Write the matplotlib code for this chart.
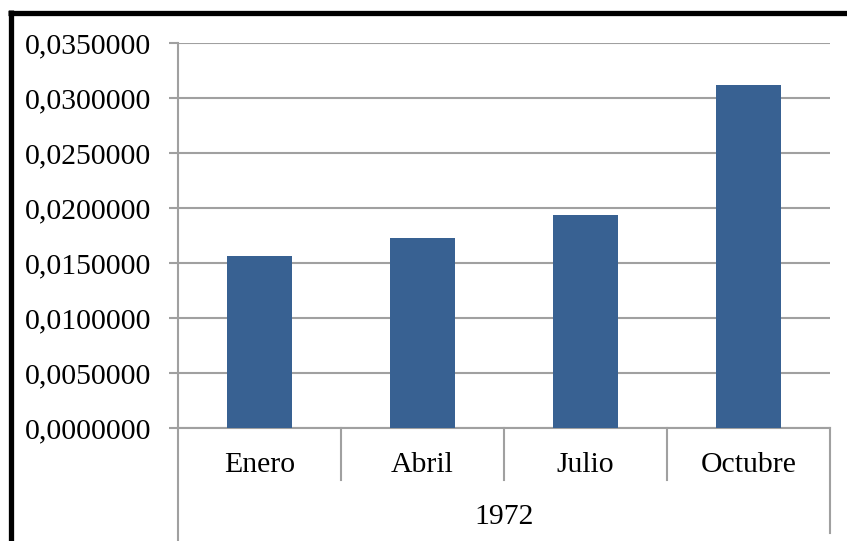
import matplotlib.pyplot as plt
from matplotlib.lines import Line2D
from matplotlib.ticker import FuncFormatter, MultipleLocator

MONTHS: list[str] = ["Enero", "Abril", "Julio", "Octubre"]
VALUES: list[float] = [0.01564, 0.01727, 0.01936, 0.03118]
YEAR: str = "1972"

BAR_COLOR = "#386192"
GRID_COLOR = "#a0a0a0"
FS = 21.4

plt.rcParams["font.family"] = ["Liberation Serif", "DejaVu Serif"]

W, H = 847, 541
fig = plt.figure(figsize=(W / 100, H / 100), dpi=100)

# plot area in pixels: left 178, right 830, top 43, bottom 428
left, right, top, bottom = 178, 830, 43, 428
ax = fig.add_axes([left / W, 1 - bottom / H, (right - left) / W, (bottom - top) / H])

x = list(range(len(MONTHS)))
ax.bar(x, VALUES, width=0.4, color=BAR_COLOR, zorder=3)

ax.set_xlim(-0.5, len(MONTHS) - 0.5)
ax.set_ylim(0, 0.035)
ax.yaxis.set_major_locator(MultipleLocator(0.005))
ax.yaxis.set_major_formatter(FuncFormatter(lambda v, _: f"{v:.7f}".replace(".", ",")))
ax.tick_params(axis="y", labelsize=FS, length=6.5, width=1.5, color=GRID_COLOR, pad=12.5)
ax.grid(axis="y", color=GRID_COLOR, linewidth=1.5, zorder=0)
ax.set_xticks([])

for side in ("top", "right"):
    ax.spines[side].set_visible(False)
for side in ("left", "bottom"):
    ax.spines[side].set_color(GRID_COLOR)
    ax.spines[side].set_linewidth(1.5)

# category axis: separators and labels
ph = bottom - top
trans = ax.get_xaxis_transform()
inner = -52 / ph
outer = -105 / ph
for i in range(len(MONTHS) + 1):
    xs = i - 0.5
    if i == 0:
        y0 = -(H - bottom) / ph
    elif i == len(MONTHS):
        y0 = outer
    else:
        y0 = inner
    ax.add_line(Line2D([xs, xs], [0, y0], transform=trans, color=GRID_COLOR,
                       linewidth=1.5, clip_on=False))

for xi, name in zip(x, MONTHS):
    ax.text(xi, -37 / ph, name, transform=trans, ha="center", va="center", fontsize=FS)
ax.text((len(MONTHS) - 1) / 2, -89 / ph, YEAR, transform=trans, ha="center",
        va="center", fontsize=FS)

# thick black frame (only top and left visible in the crop)
fig.add_artist(Line2D([10.5 / W, 10.5 / W], [0, 1 - 10 / H], transform=fig.transFigure,
                      color="black", linewidth=3.8, solid_capstyle="butt"))
fig.add_artist(Line2D([8 / W, 1], [1 - 12.5 / H, 1 - 12.5 / H], transform=fig.transFigure,
                      color="black", linewidth=3.8, solid_capstyle="butt"))

fig.savefig("out.png", dpi=100)
